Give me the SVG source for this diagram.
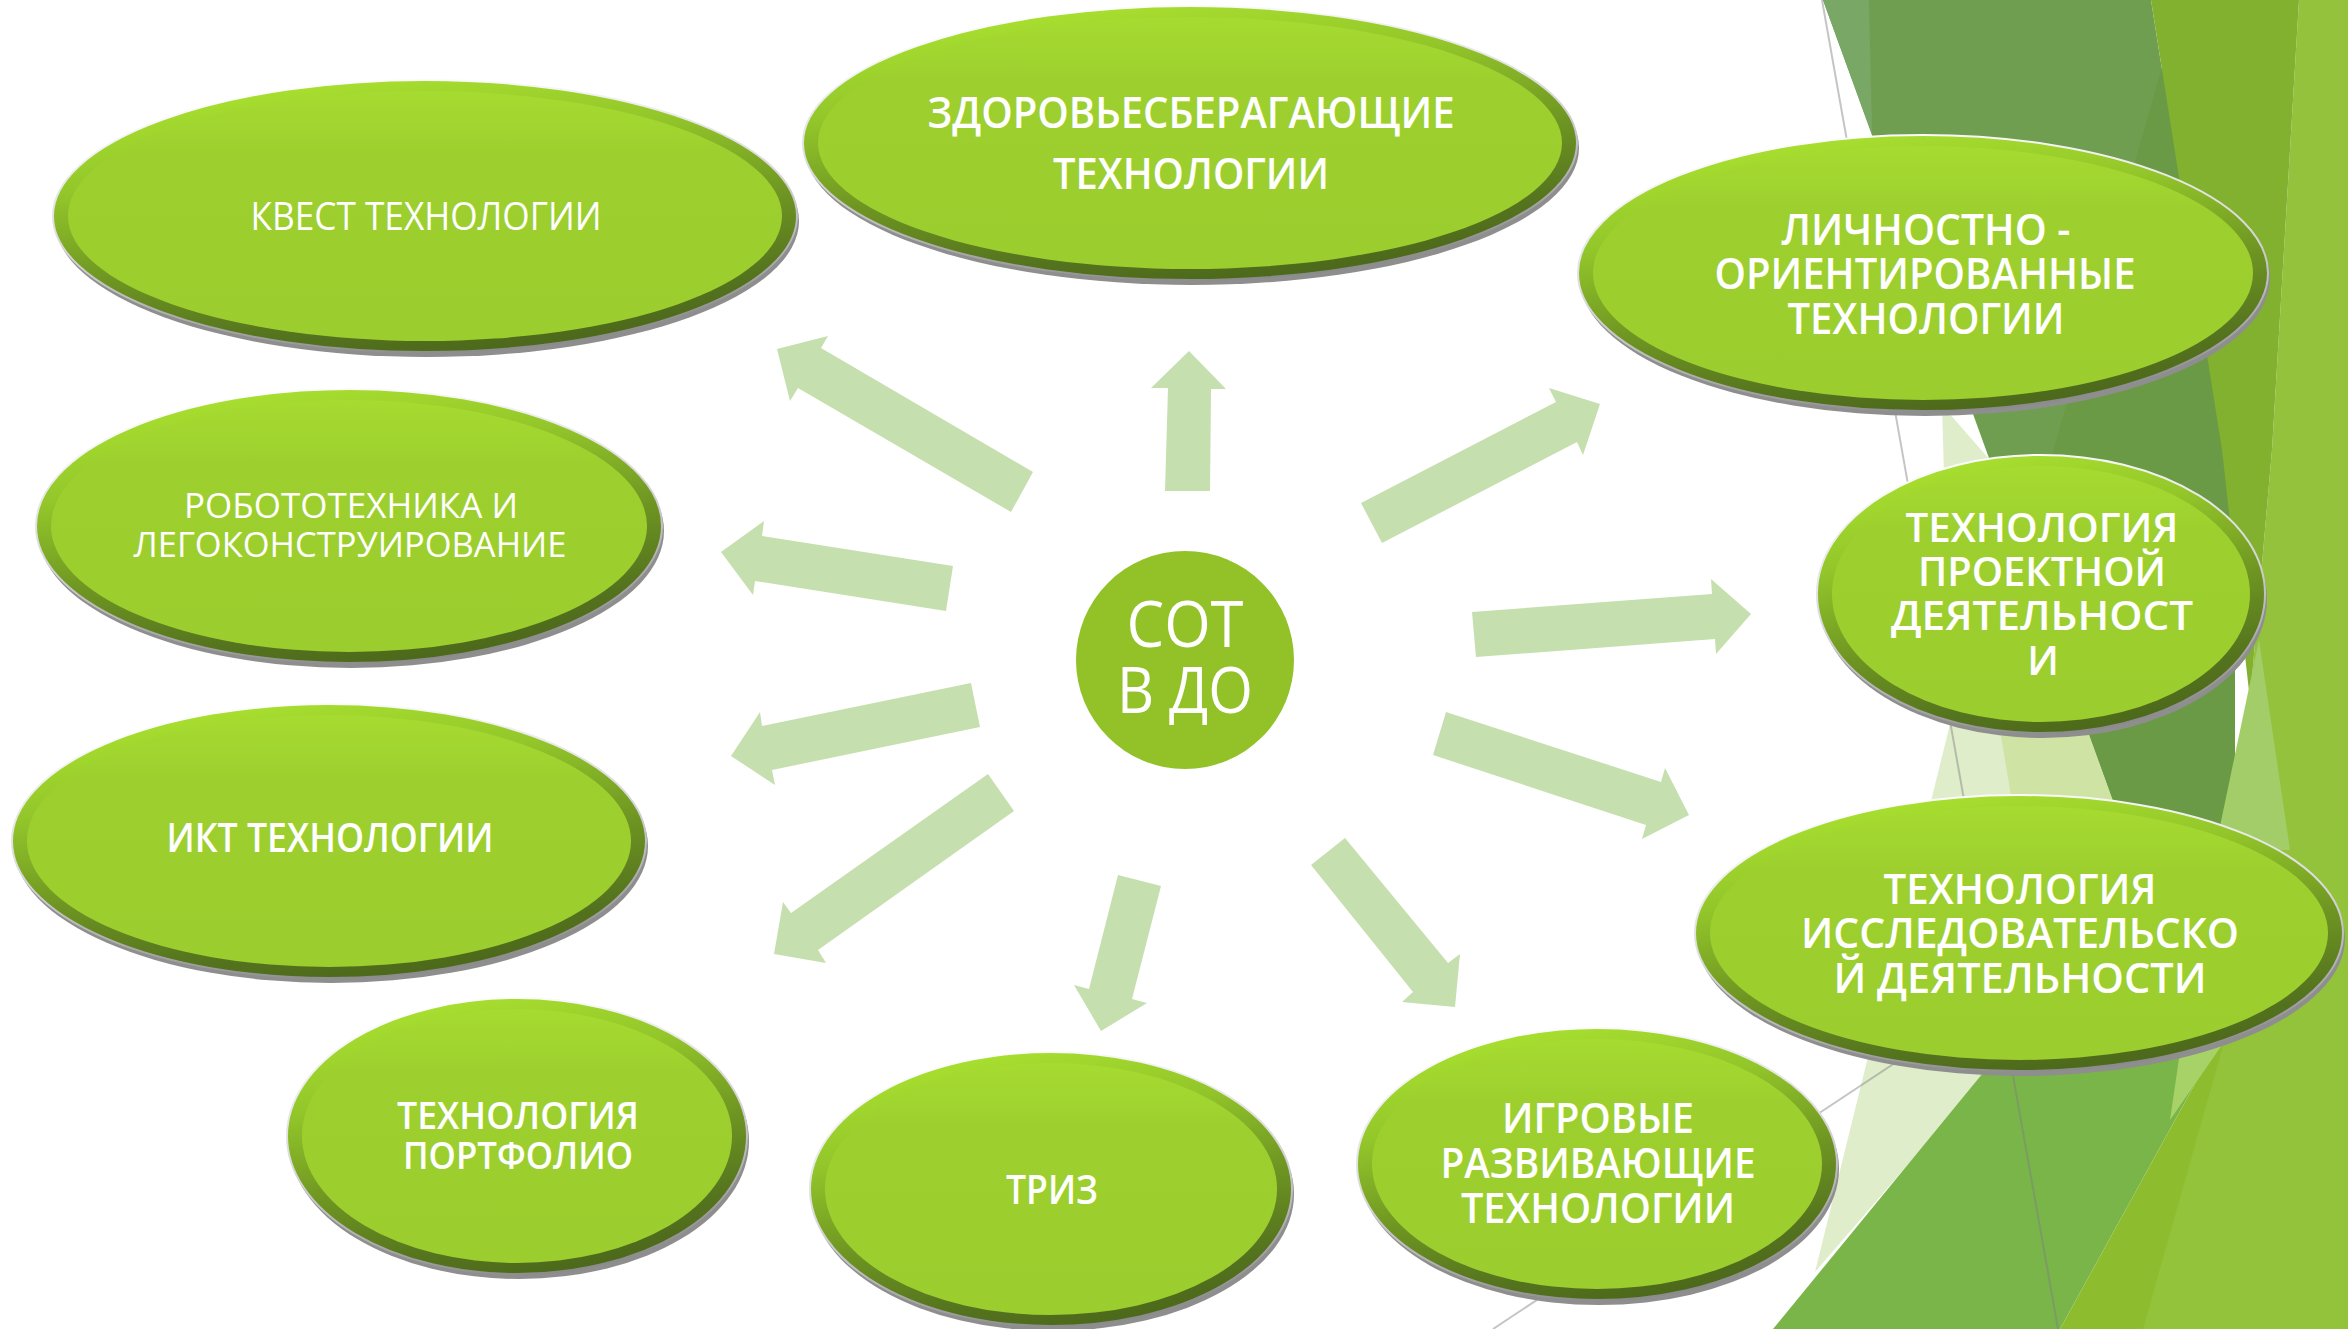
<svg xmlns="http://www.w3.org/2000/svg" width="2348" height="1329" viewBox="0 0 2348 1329">
<defs>
<linearGradient id="rim" x1="0.25" y1="0" x2="0.6" y2="1">
<stop offset="0" stop-color="#ABE330"/>
<stop offset="0.3" stop-color="#93C62A"/>
<stop offset="0.6" stop-color="#6E9522"/>
<stop offset="0.85" stop-color="#55741E"/>
<stop offset="1" stop-color="#4C681B"/>
</linearGradient>
<linearGradient id="inner" x1="0" y1="0" x2="0" y2="1">
<stop offset="0" stop-color="#A6DB31"/>
<stop offset="0.25" stop-color="#9DD02E"/>
<stop offset="1" stop-color="#9BCD2E"/>
</linearGradient>
<linearGradient id="edge" x1="0.3" y1="0" x2="0.6" y2="1">
<stop offset="0" stop-color="#FFFFFF"/>
<stop offset="0.5" stop-color="#D8D8D8"/>
<stop offset="1" stop-color="#8A8A8A"/>
</linearGradient>
<style>
.sh{fill:#8E8E8E}
.rim{fill:url(#rim);stroke:url(#edge);stroke-width:2}
.in{fill:url(#inner)}
.t{font-family:"Open Sans","DejaVu Sans",sans-serif;fill:#FFFFFF;text-anchor:middle}
.b{font-weight:600}
.arr{fill:#C6DFAE}
.gl{stroke:#7F7F7F;stroke-opacity:0.45;stroke-width:2;fill:none}
</style>
</defs>
<rect width="2348" height="1329" fill="#FFFFFF"/>
<g id="background">
<polygon points="1942,405 1990,460 2131,850 2050,1000 1815,1272 1951,720" fill="#E0EDCB"/>
<polygon points="1985,640 2055,640 2131,850 2020,850" fill="#CFE3A5"/>
<polygon points="1823,0 2151,0 2222,450 2232,700 2225,850 2131,850" fill="#709E51"/>
<polygon points="1823,0 1869,0 1872,134" fill="#78A766"/>
<polygon points="2181,0 2235,0 2235,850 2131,850 2024,554" fill="#6A9A45"/>
<polygon points="2299,0 2348,0 2348,1010 2235,1010 2235,850 2250,700 2272,450" fill="#95C23D"/>
<polygon points="2151,0 2299,0 2272,450 2250,700 2222,450" fill="#82B02F"/>
<polygon points="2259,640 2290,850 2215,850" fill="#A3CD68"/>
<polygon points="1773,1329 2060,1329 2240,1002 2010,1040" fill="#7AB54A"/>
<polygon points="2060,1329 2348,1329 2348,806 2240,1002" fill="#8DBD2F"/>
<polygon points="2143,1329 2348,1329 2348,800 2270,880" fill="#93C23B"/>
<polygon points="2181,1045 2222,1045 2170,1120" fill="#A6D267"/>
<line class="gl" x1="1822" y1="0" x2="2058" y2="1329"/>
<line class="gl" x1="1493" y1="1329" x2="1990" y2="1000"/>
</g>
<g id="connectors">
<polygon class="arr" points="1165,491 1168,388 1151,388 1189,351 1226,389 1211,389 1210,491"/>
<polygon class="arr" points="1361,503 1556,402 1549,388 1600,404 1583,455 1577,442 1382,543"/>
<polygon class="arr" points="1472,612 1712,594 1711,579 1751,614 1716,654 1715,639 1476,657"/>
<polygon class="arr" points="1446,712 1661,782 1665,768 1689,815 1642,839 1646,825 1433,755"/>
<polygon class="arr" points="1345,838 1448,963 1460,954 1455,1007 1402,1002 1413,992 1311,865"/>
<polygon class="arr" points="1118,875 1161,886 1132,999 1147,1003 1101,1031 1074,985 1089,989"/>
<polygon class="arr" points="988,774 1014,811 818,950 826,963 774,954 783,902 791,913"/>
<polygon class="arr" points="731,756 760,712 762,726 971,683 980,727 772,770 775,785"/>
<polygon class="arr" points="721,552 764,521 762,536 953,566 946,611 755,581 753,595"/>
<polygon class="arr" points="777,349 828,336 821,348 1033,472 1011,512 798,388 790,401"/>
</g>
<g id="n-center">
<circle cx="1185" cy="660" r="109" fill="#92C128"/>
<text class="t" x="1185" y="647" font-size="64" textLength="117" lengthAdjust="spacingAndGlyphs">СОТ</text>
<text class="t" x="1185" y="713" font-size="64" textLength="136" lengthAdjust="spacingAndGlyphs">В ДО</text>
</g>
<g id="n-kvest">
<ellipse class="sh" cx="427" cy="221" rx="372" ry="136"/>
<ellipse class="rim" cx="425" cy="216" rx="372" ry="136"/>
<ellipse class="in" cx="425" cy="216" rx="357" ry="125"/>
<text class="t" x="426" y="230" font-size="38" textLength="351" lengthAdjust="spacingAndGlyphs">КВЕСТ ТЕХНОЛОГИИ</text>
</g>
<g id="n-zdorov">
<ellipse class="sh" cx="1192" cy="148" rx="387" ry="137"/>
<ellipse class="rim" cx="1190" cy="143" rx="387" ry="137"/>
<ellipse class="in" cx="1190" cy="143" rx="372" ry="126"/>
<text class="t b" x="1191" y="128" font-size="44" textLength="527" lengthAdjust="spacingAndGlyphs">ЗДОРОВЬЕСБЕРАГАЮЩИЕ</text>
<text class="t b" x="1191" y="189" font-size="44" textLength="276" lengthAdjust="spacingAndGlyphs">ТЕХНОЛОГИИ</text>
</g>
<g id="n-lichn">
<ellipse class="sh" cx="1925" cy="278" rx="345" ry="138"/>
<ellipse class="rim" cx="1923" cy="273" rx="345" ry="138"/>
<ellipse class="in" cx="1923" cy="273" rx="330" ry="127"/>
<text class="t b" x="1926" y="245" font-size="44" textLength="289" lengthAdjust="spacingAndGlyphs">ЛИЧНОСТНО -</text>
<text class="t b" x="1925" y="289" font-size="44" textLength="421" lengthAdjust="spacingAndGlyphs">ОРИЕНТИРОВАННЫЕ</text>
<text class="t b" x="1926" y="334" font-size="44" textLength="277" lengthAdjust="spacingAndGlyphs">ТЕХНОЛОГИИ</text>
</g>
<g id="n-proekt">
<ellipse class="sh" cx="2043" cy="599" rx="224" ry="139"/>
<ellipse class="rim" cx="2041" cy="594" rx="224" ry="139"/>
<ellipse class="in" cx="2041" cy="594" rx="209" ry="128"/>
<text class="t b" x="2042" y="542" font-size="40" textLength="273" lengthAdjust="spacingAndGlyphs">ТЕХНОЛОГИЯ</text>
<text class="t b" x="2042" y="586" font-size="40" textLength="248" lengthAdjust="spacingAndGlyphs">ПРОЕКТНОЙ</text>
<text class="t b" x="2042" y="630" font-size="40" textLength="302" lengthAdjust="spacingAndGlyphs">ДЕЯТЕЛЬНОСТ</text>
<text class="t b" x="2043" y="675" font-size="40">И</text>
</g>
<g id="n-issled">
<ellipse class="sh" cx="2021" cy="938" rx="324" ry="138"/>
<ellipse class="rim" cx="2019" cy="933" rx="324" ry="138"/>
<ellipse class="in" cx="2019" cy="933" rx="309" ry="127"/>
<text class="t b" x="2020" y="904" font-size="42" textLength="273" lengthAdjust="spacingAndGlyphs">ТЕХНОЛОГИЯ</text>
<text class="t b" x="2020" y="948" font-size="42" textLength="438" lengthAdjust="spacingAndGlyphs">ИССЛЕДОВАТЕЛЬСКО</text>
<text class="t b" x="2020" y="993" font-size="42" textLength="373" lengthAdjust="spacingAndGlyphs">Й ДЕЯТЕЛЬНОСТИ</text>
</g>
<g id="n-igrov">
<ellipse class="sh" cx="1599" cy="1169" rx="240" ry="136"/>
<ellipse class="rim" cx="1597" cy="1164" rx="240" ry="136"/>
<ellipse class="in" cx="1597" cy="1164" rx="225" ry="125"/>
<text class="t b" x="1598" y="1133" font-size="41" textLength="192" lengthAdjust="spacingAndGlyphs">ИГРОВЫЕ</text>
<text class="t b" x="1598" y="1178" font-size="41" textLength="315" lengthAdjust="spacingAndGlyphs">РАЗВИВАЮЩИЕ</text>
<text class="t b" x="1598" y="1223" font-size="41" textLength="274" lengthAdjust="spacingAndGlyphs">ТЕХНОЛОГИИ</text>
</g>
<g id="n-triz">
<ellipse class="sh" cx="1053" cy="1194" rx="241" ry="137"/>
<ellipse class="rim" cx="1051" cy="1189" rx="241" ry="137"/>
<ellipse class="in" cx="1051" cy="1189" rx="226" ry="126"/>
<text class="t b" x="1052" y="1204" font-size="40" textLength="92" lengthAdjust="spacingAndGlyphs">ТРИЗ</text>
</g>
<g id="n-portf">
<ellipse class="sh" cx="519" cy="1141" rx="230" ry="138"/>
<ellipse class="rim" cx="517" cy="1136" rx="230" ry="138"/>
<ellipse class="in" cx="517" cy="1136" rx="215" ry="127"/>
<text class="t b" x="518" y="1129" font-size="38" textLength="242" lengthAdjust="spacingAndGlyphs">ТЕХНОЛОГИЯ</text>
<text class="t b" x="518" y="1169" font-size="38" textLength="230" lengthAdjust="spacingAndGlyphs">ПОРТФОЛИО</text>
</g>
<g id="n-ikt">
<ellipse class="sh" cx="331" cy="846" rx="317" ry="137"/>
<ellipse class="rim" cx="329" cy="841" rx="317" ry="137"/>
<ellipse class="in" cx="329" cy="841" rx="302" ry="126"/>
<text class="t b" x="330" y="852" font-size="40" textLength="327" lengthAdjust="spacingAndGlyphs">ИКТ ТЕХНОЛОГИИ</text>
</g>
<g id="n-robot">
<ellipse class="sh" cx="351" cy="531" rx="313" ry="137"/>
<ellipse class="rim" cx="349" cy="526" rx="313" ry="137"/>
<ellipse class="in" cx="349" cy="526" rx="298" ry="126"/>
<text class="t" x="351" y="518" font-size="35" textLength="334" lengthAdjust="spacingAndGlyphs">РОБОТОТЕХНИКА И</text>
<text class="t" x="350" y="557" font-size="35" textLength="433" lengthAdjust="spacingAndGlyphs">ЛЕГОКОНСТРУИРОВАНИЕ</text>
</g>
</svg>
